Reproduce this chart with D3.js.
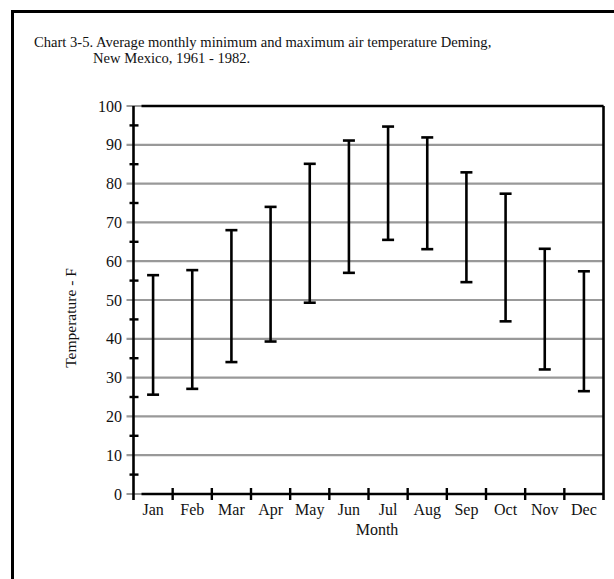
<!DOCTYPE html>
<html><head><meta charset="utf-8">
<script src="https://cdn.jsdelivr.net/npm/d3@7"></script>
<style>
body{margin:0;background:#fff;}
svg{display:block;}
text{font-family:"Liberation Serif","Times New Roman",serif;fill:#111;}
</style></head>
<body>
<script>
const months = ["Jan","Feb","Mar","Apr","May","Jun","Jul","Aug","Sep","Oct","Nov","Dec"];
const minTemp = [25.6, 27.1, 34.0, 39.3, 49.3, 57.0, 65.5, 63.1, 54.6, 44.5, 32.1, 26.5];
const maxTemp = [56.4, 57.7, 68.0, 74.0, 85.1, 91.1, 94.7, 91.9, 82.9, 77.4, 63.2, 57.4];
const yTicks = [0,10,20,30,40,50,60,70,80,90,100];
const yMinorTicks = [5,15,25,35,45,55,65,75,85,95];
const titleLines = ["Chart 3-5. Average monthly minimum and maximum air temperature Deming,", "New Mexico, 1961 - 1982."];

const W = 614, H = 579;
const FONT = "Liberation Serif, Times New Roman, serif";
const svg = d3.select("body").append("svg").attr("width", W).attr("height", H)
  .attr("font-family", FONT);

// outer frame
svg.append("rect").attr("x", 12.5).attr("y", 11.5).attr("width", 640).attr("height", 640)
  .attr("fill", "none").attr("stroke", "#000").attr("stroke-width", 3);

// title
svg.append("text").attr("x", 34).attr("y", 47).style("font-size", "14.6px").text(titleLines[0]);
svg.append("text").attr("x", 93).attr("y", 63).style("font-size", "14.6px").text(titleLines[1]);

const x = d3.scaleBand().domain(months).range([133.5, 603.5]);
const y = d3.scaleLinear().domain([0, 100]).range([494, 106]);
const x0 = x.range()[0], x1 = x.range()[1];

// gridlines
svg.append("g").selectAll("line").data(yTicks).join("line")
  .attr("x1", x0 - 7).attr("x2", x1).attr("y1", d => y(d)).attr("y2", d => y(d))
  .attr("stroke", "#999").attr("stroke-width", 2.2);

// plot frame top and bottom (black)
svg.append("line").attr("x1", x0 + 8).attr("x2", x1).attr("y1", y(100)).attr("y2", y(100))
  .attr("stroke", "#000").attr("stroke-width", 2.4);
svg.append("line").attr("x1", x0 + 8).attr("x2", x1).attr("y1", y(0)).attr("y2", y(0))
  .attr("stroke", "#000").attr("stroke-width", 2.4);

// y axis & right line
svg.append("line").attr("x1", x0).attr("x2", x0).attr("y1", y(100)).attr("y2", y(0) + 6)
  .attr("stroke", "#000").attr("stroke-width", 2.6);
svg.append("line").attr("x1", x1).attr("x2", x1).attr("y1", y(100)).attr("y2", y(0) + 6)
  .attr("stroke", "#000").attr("stroke-width", 2.6);

// minor ticks
svg.append("g").selectAll("line").data(yMinorTicks).join("line")
  .attr("x1", x0 - 4).attr("x2", x0 + 5).attr("y1", d => y(d)).attr("y2", d => y(d))
  .attr("stroke", "#000").attr("stroke-width", 2.4);

// x ticks at band boundaries
svg.append("g").selectAll("line").data(months.slice(1)).join("line")
  .attr("x1", d => x(d)).attr("x2", d => x(d)).attr("y1", y(0) - 6).attr("y2", y(0) + 6)
  .attr("stroke", "#000").attr("stroke-width", 2.4);

// y labels
const yAxis = svg.append("g").attr("transform", `translate(${x0 - 11.5},0)`)
  .call(d3.axisLeft(y).tickValues(yTicks).tickSize(0).tickPadding(0));
yAxis.attr("font-family", FONT).attr("font-size", 16);
yAxis.select(".domain").remove();
yAxis.selectAll("text").attr("fill", "#111").attr("dy", "0.32em");

// x labels
const xAxis = svg.append("g").attr("transform", `translate(0,${y(0) + 6})`)
  .call(d3.axisBottom(x).tickSize(0).tickPadding(0));
xAxis.attr("font-family", FONT).attr("font-size", 16);
xAxis.select(".domain").remove();
xAxis.selectAll("text").attr("fill", "#111").attr("dy", "0.95em");

// axis titles
svg.append("text").attr("x", 377).attr("y", 535).attr("text-anchor", "middle")
  .style("font-size", "16px").text("Month");
svg.append("text").attr("transform", `translate(76,318) rotate(-90)`).attr("text-anchor", "middle")
  .style("font-size", "15.5px").text("Temperature - F");

// error bars
const bars = svg.append("g").selectAll("g").data(months).join("g")
  .attr("transform", d => `translate(${x(d) + x.bandwidth() / 2},0)`);
bars.append("line").attr("x1", 0).attr("x2", 0)
  .attr("y1", (d, i) => y(maxTemp[i])).attr("y2", (d, i) => y(minTemp[i]))
  .attr("stroke", "#000").attr("stroke-width", 2.6);
bars.append("line").attr("x1", -6).attr("x2", 6)
  .attr("y1", (d, i) => y(maxTemp[i])).attr("y2", (d, i) => y(maxTemp[i]))
  .attr("stroke", "#000").attr("stroke-width", 2.6);
bars.append("line").attr("x1", -6).attr("x2", 6)
  .attr("y1", (d, i) => y(minTemp[i])).attr("y2", (d, i) => y(minTemp[i]))
  .attr("stroke", "#000").attr("stroke-width", 2.6);
</script>
</body></html>
